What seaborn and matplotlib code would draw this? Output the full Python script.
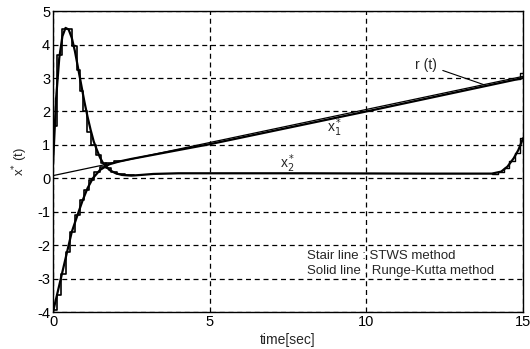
import matplotlib
matplotlib.use("Agg")
import matplotlib.pyplot as plt
import seaborn as sns
import pandas as pd

# ---- data ----
r_t = [0.0, 15.0]
r_val = [0.08, 3.05]

x1_t = [0, 0.15, 0.3, 0.45, 0.6, 0.8, 0.95, 1.1, 1.27, 1.5, 1.8, 2.1, 2.5, 5, 10, 15]
x1_val = [-4.0, -3.4, -2.8, -2.2, -1.6, -1.05, -0.65, -0.3, 0.0, 0.25, 0.42, 0.5, 0.58, 1.02, 2.0, 3.0]

x2_t = [0, 0.1, 0.2, 0.3, 0.4, 0.5, 0.6, 0.7, 0.8, 0.9, 1.0, 1.1, 1.2, 1.3, 1.4, 1.5, 1.6,
        1.8, 2.0, 2.2, 2.5, 2.8, 3.2, 4.0, 8.0, 12.0, 14.0, 14.3, 14.5, 14.7, 14.85, 15.0]
x2_val = [0.4, 2.4, 3.6, 4.25, 4.5, 4.45, 4.2, 3.8, 3.3, 2.8, 2.3, 1.85, 1.45, 1.1, 0.85, 0.62, 0.45,
          0.25, 0.15, 0.1, 0.08, 0.1, 0.13, 0.15, 0.15, 0.14, 0.14, 0.2, 0.35, 0.6, 0.85, 1.2]

# STWS staircase pieces
s1_t = [0, 0.12, 0.27, 0.42, 0.55, 0.7, 0.85, 1.0, 1.15, 1.3, 1.5, 1.7, 1.95, 2.2]
s1_val = [-3.95, -3.5, -2.85, -2.2, -1.6, -1.1, -0.65, -0.35, -0.05, 0.2, 0.35, 0.45, 0.52, 0.52]
s1b_t = [14.75, 14.9, 15.0]
s1b_val = [2.98, 3.15, 3.15]

s2_t = [0, 0.12, 0.3, 0.6, 0.75, 0.85, 0.95, 1.08, 1.22, 1.37, 1.52, 1.68, 1.85, 2.05, 2.3, 2.6]
s2_val = [1.55, 3.7, 4.47, 3.95, 3.25, 2.6, 2.0, 1.4, 1.0, 0.7, 0.45, 0.3, 0.2, 0.12, 0.1, 0.1]
s2b_t = [14.0, 14.2, 14.38, 14.55, 14.73, 14.9, 15.0]
s2b_val = [0.14, 0.2, 0.32, 0.52, 0.77, 1.2, 1.2]

x_ticks = [0, 5, 10, 15]
y_ticks = [-4, -3, -2, -1, 0, 1, 2, 3, 4, 5]

sns.set_style("white")
plt.rcParams['font.family'] = ['Liberation Sans', 'DejaVu Sans']
plt.rcParams['axes.unicode_minus'] = False

fig = plt.figure(figsize=(5.30, 3.49), dpi=100)
ax = fig.add_axes([0.100, 0.106, 0.887, 0.862])

def draw(t, v, **kw):
    df = pd.DataFrame({"t": t, "v": v})
    sns.lineplot(data=df, x="t", y="v", ax=ax, estimator=None, sort=False,
                 color="black", **kw)

draw(r_t, r_val, lw=0.9)
draw(x1_t, x1_val, lw=1.6)
draw(x2_t, x2_val, lw=1.6)
draw(s1_t, s1_val, lw=1.2, drawstyle="steps-post")
draw(s1b_t, s1b_val, lw=1.0, drawstyle="steps-post")
draw(s2_t, s2_val, lw=1.2, drawstyle="steps-post")
draw(s2b_t, s2b_val, lw=1.0, drawstyle="steps-post")

ax.set_xlim(0, 15)
ax.set_ylim(-4, 5)
ax.set_xticks(x_ticks)
ax.set_yticks(y_ticks)
ax.grid(True, color="black", ls=(0, (4, 3)), lw=0.9)
for s in ax.spines.values():
    s.set_visible(True)
    s.set_color("black")
    s.set_linewidth(1.0)
ax.tick_params(direction="in", length=3, width=0.8, labelsize=10.5, colors="black", pad=2)
ax.set_xlabel("time[sec]", fontsize=10, labelpad=3)
ax.set_ylabel(r"x$^{*}$ (t)", fontsize=9.5, labelpad=5)

ax.text(9.0, 1.5, r"x$_1^*$", fontsize=10, ha="center", va="center")
ax.text(7.5, 0.45, r"x$_2^*$", fontsize=10, ha="center", va="center")
ax.annotate("r (t)", xy=(13.75, 2.8), xytext=(11.9, 3.4), fontsize=10,
            ha="center", va="center",
            arrowprops=dict(arrowstyle="-", color="black", lw=0.8, shrinkA=2, shrinkB=0))
ax.text(8.1, -2.33, "Stair line : STWS method", fontsize=9.5, ha="left", va="center")
ax.text(8.1, -2.78, "Solid line : Runge-Kutta method", fontsize=9.5, ha="left", va="center")

fig.savefig("out.png", dpi=100)
